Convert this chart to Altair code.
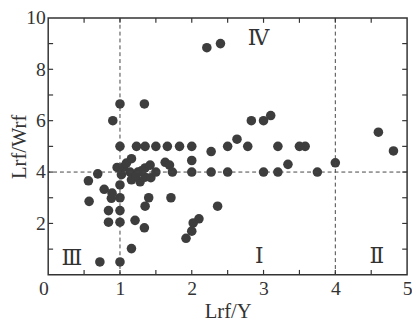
import altair as alt
import pandas as pd

# scatter data (Lrf/Y, Lrf/Wrf)
x_vals = [0.72, 1.0, 1.16,
          0.84, 1.0, 1.21, 1.34,
          0.84, 1.0,
          0.57, 0.88, 1.0, 1.35, 1.40, 1.71,
          0.78, 0.89, 1.0, 0.56, 0.69,
          0.96, 1.02, 1.05, 1.09, 1.16, 1.14, 1.16, 1.25, 1.28, 1.35, 1.35, 1.42, 1.43,
          1.5, 1.63, 1.69, 1.73, 2.0, 2.0, 1.22, 1.3,
          1.0, 1.23, 1.35, 1.5, 1.66, 1.83, 2.0,
          0.9, 1.0, 1.34, 2.21, 2.40,
          2.27, 2.5, 2.63, 2.78, 2.83, 3.0, 3.1, 3.2, 3.5, 3.58, 4.6, 4.81, 4.0,
          2.27, 2.5, 3.0, 3.2, 3.34, 3.75,
          2.36, 2.1, 2.02, 2.0, 1.92]
y_vals = [0.5, 0.5, 1.02,
          2.05, 2.05, 2.12, 1.83,
          2.5, 2.5,
          2.86, 2.98, 3.0, 2.67, 3.0, 3.0,
          3.33, 3.18, 3.5, 3.66, 3.93,
          4.18, 3.9, 4.2, 4.35, 4.52, 4.0, 3.7, 4.0, 3.62, 4.16, 3.8, 4.27, 3.78,
          4.0, 4.38, 4.27, 4.0, 4.0, 4.45, 3.85, 4.05,
          5.0, 5.0, 5.0, 5.0, 5.0, 5.0, 5.0,
          6.0, 6.65, 6.65, 8.84, 9.0,
          4.8, 5.0, 5.28, 5.0, 6.0, 6.0, 6.2, 5.0, 5.0, 5.0, 5.55, 4.82, 4.36,
          4.0, 4.0, 4.0, 4.0, 4.3, 4.0,
          2.67, 2.18, 2.02, 1.7, 1.42]

vline_x = [1, 4]
hline_y = [4]

x_tick_labels = [0, 1, 2, 3, 4, 5]
y_tick_labels = [2, 4, 6, 8, 10]
x_minor = [0.5, 1, 1.5, 2, 2.5, 3, 3.5, 4, 4.5]
y_minor = [1, 2, 3, 4, 5, 6, 7, 8, 9]

quad_labels = ["Ⅰ", "Ⅱ", "Ⅲ", "Ⅳ"]
quad_x = [2.94, 4.58, 0.33, 2.93]
quad_y = [0.72, 0.72, 0.65, 9.2]

W, H = 366, 262
FONT = "Liberation Serif"
INK = "#333333"

xs = alt.Scale(domain=[0, 5], nice=False, zero=False)
ys = alt.Scale(domain=[0, 10], nice=False, zero=False)

x_axis = alt.Axis(
    title="Lrf/Y", values=x_tick_labels, tickSize=0, domain=False, grid=False,
    labelFont=FONT, labelFontSize=20, labelColor=INK, labelPadding=4,
    labelAlign=alt.ExprRef(expr="datum.value == 0 ? 'right' : 'center'"),
    titleFont=FONT, titleFontSize=21, titleFontWeight="normal", titleColor=INK,
    titleX=W / 2, titleY=44, titleAlign="center", titleBaseline="alphabetic")
y_axis = alt.Axis(
    title="Lrf/Wrf", values=y_tick_labels, tickSize=0, domain=False, grid=False,
    labelFont=FONT, labelFontSize=20, labelColor=INK, labelPadding=3,
    titleFont=FONT, titleFontSize=21, titleFontWeight="normal", titleColor=INK,
    titleX=-40, titleY=H / 2, titleAngle=270, titleAlign="center",
    titleBaseline="top")


def X(f):
    return alt.X(f, scale=xs, axis=x_axis)


def Y(f):
    return alt.Y(f, scale=ys, axis=y_axis)


df = pd.DataFrame({"x": x_vals, "y": y_vals})

points = alt.Chart(df).mark_circle(size=95, color="#3d3d3d", opacity=1).encode(
    x=X("x:Q"), y=Y("y:Q"))

vrules = alt.Chart(pd.DataFrame({"x": vline_x})).mark_rule(
    color="#444444", strokeWidth=1, strokeDash=[4, 3]).encode(x=X("x:Q"))
hrules = alt.Chart(pd.DataFrame({"y": hline_y})).mark_rule(
    color="#444444", strokeWidth=1, strokeDash=[4, 3]).encode(y=Y("y:Q"))

xt = pd.DataFrame({"x": x_minor})
yt = pd.DataFrame({"y": y_minor})
tick_style = dict(color=INK, strokeWidth=1.2)
bt = alt.Chart(xt).mark_rule(**tick_style).encode(
    x=X("x:Q"), y=alt.value(H), y2=alt.value(H - 5))
tt = alt.Chart(xt).mark_rule(**tick_style).encode(
    x=X("x:Q"), y=alt.value(0), y2=alt.value(5))
lt = alt.Chart(yt).mark_rule(**tick_style).encode(
    y=Y("y:Q"), x=alt.value(0), x2=alt.value(5))
rt = alt.Chart(yt).mark_rule(**tick_style).encode(
    y=Y("y:Q"), x=alt.value(W), x2=alt.value(W - 5))

labels = alt.Chart(pd.DataFrame({"lab": quad_labels, "x": quad_x, "y": quad_y})).mark_text(
    font="DejaVu Serif", fontSize=22, color=INK, baseline="middle", align="center").encode(
    x=X("x:Q"), y=Y("y:Q"), text="lab:N")

chart = alt.layer(points, vrules, hrules, bt, tt, lt, rt, labels).properties(
    width=W, height=H,
    padding={"left": 41, "top": 7, "right": 5, "bottom": 45},
    autosize=alt.AutoSizeParams(type="none"),
).configure_view(stroke=INK, strokeWidth=1.5)

chart.save("out.html", embed_options={"renderer": "svg", "actions": False})
